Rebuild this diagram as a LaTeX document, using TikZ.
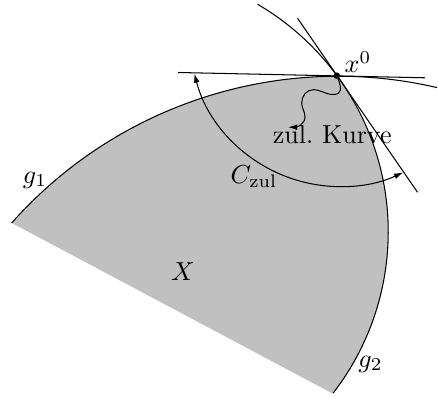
\documentclass[tikz,border=0pt]{standalone}
\usetikzlibrary{arrows.meta, calc}
\definecolor{cregion}{HTML}{C0C0C0}
\tikzset{
  region/.style={fill=cregion, draw=none},
  curve/.style={draw=black, line width=0.4pt},
  arrow/.style={-{Latex[length=3.5pt, width=2.2pt]}, line width=0.4pt},
  darrow/.style={{Latex[length=3.5pt, width=2.2pt]}-{Latex[length=3.5pt, width=2.2pt]}, line width=0.4pt},
  dot/.style={circle, fill=black, inner sep=0pt, minimum size=2.5pt},
  lab/.style={inner sep=1pt},
}
\begin{document}
\begin{tikzpicture}[scale=0.0135]
  \useasboundingbox (0,0) rectangle (438,399);
  \coordinate (c1) at (338,-113.7);
  \coordinate (c2) at (124.7,167.1);
  % feasible set X
  \fill[region] ($(c1)+(138.4:436.5)$) arc[start angle=138.4, end angle=90.2, radius=436.5]
    arc[start angle=36.4, end angle=-37.7, radius=263.5] -- cycle;
  % boundaries g1 and g2
  \draw[curve] ($(c1)+(138.4:436.5)$) arc[start angle=138.4, end angle=76.9, radius=436.5];
  \draw[curve] ($(c2)+(59.7:263.5)$) arc[start angle=59.7, end angle=-37.7, radius=263.5];
  \node[dot] (x0) at (336.8,323.3) {};
  % tangents in x0
  \coordinate (t1a) at ($(x0)+(-158.8,3.0)$);
  \coordinate (t1b) at ($(x0)+(88.2,-2.3)$);
  \coordinate (t2a) at ($(x0)+(-39.5,57.3)$);
  \coordinate (t2b) at ($(x0)+(80.5,-116.7)$);
  \draw[curve] (t1a) -- (t1b);
  \draw[curve] (t2a) -- (t2b);
  % cone of feasible directions
  \coordinate (ca) at ($(339.7,362.4)+(194.3:150)$);
  \draw[darrow] (ca) arc[start angle=194.3, end angle=295, radius=150];
  % feasible curve
  \coordinate (kend) at (288,271.7);
  \draw[arrow] (x0) to[out=-70, in=0, looseness=1.5] (333,304.5)
    to[out=180, in=0] (313.3,309.3) to[out=180, in=90] (301.7,296)
    to[out=-90, in=90] (305,282) to[out=-90, in=0] (kend);
  % labels
  \node[lab] (lx0) at (358,337) {$x^0$};
  \node[lab] (lkurve) at (332.2,264.7) {zul.\ Kurve};
  \node[lab] (lczul) at (254,222.6) {$C_{\mathrm{zul}}$};
  \node[lab] (lg1) at (35,219) {$g_1$};
  \node[lab] (lg2) at (370.5,35) {$g_2$};
  \node[lab] (lX) at (183,127) {$X$};
\end{tikzpicture}
\end{document}
